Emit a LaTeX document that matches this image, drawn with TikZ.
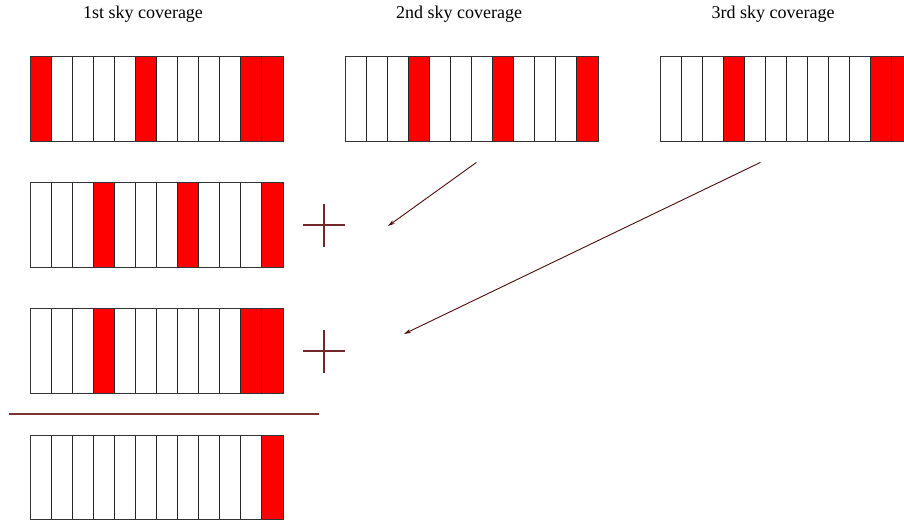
\documentclass[tikz,border=0pt]{standalone}
\usepackage{fontspec}
\setmainfont{Liberation Serif}
\usetikzlibrary{arrows.meta}
\definecolor{plusbrown}{RGB}{112,40,40}
\definecolor{rulebrown}{RGB}{122,50,50}
\definecolor{arrowbrown}{RGB}{80,12,12}

% one sky coverage: name, left x, top y, list of red cells
\newcommand{\skystrip}[4]{%
  \foreach \k in {#4}
    \fill[red] ({#2+(\k-1)*21.083},#3) rectangle ++(21.083,84.5);
  \foreach \k in {1,...,11}
    \draw[cellline] ({#2+\k*21.083},#3) -- ++(0,84.5);
  \node[strip, anchor=north west] (#1) at (#2,#3) {};
}

\begin{document}
\begin{tikzpicture}[x=1pt, y=-1pt, line cap=butt, line join=miter, >=stealth]
	\tikzset{strip/.style={draw=black!80, line width=0.9pt, minimum width=253pt, minimum height=84.5pt, inner sep=0pt},
		cellline/.style={draw=black!85, line width=0.9pt},
		title/.style={font=\fontsize{18}{20}\selectfont},
		pluspen/.style={draw=plusbrown, line width=1.4pt},
		feed/.style={draw=arrowbrown, line width=0.9pt, -{Stealth[length=7pt, width=4pt, fill=black!70]}}}
	\clip (0,0) rectangle (904,519);
	\fill[white] (0,0) rectangle (904,519);
	% the three sky coverages
	\node[title] (t1) at (143,14) {1st sky coverage};
	\node[title] (t2) at (459,14) {2nd sky coverage};
	\node[title] (t3) at (773,14) {3rd sky coverage};
	\skystrip{cov1}{30}{56}{1,6,11,12}
	\skystrip{cov2}{345}{56}{4,8,12}
	\skystrip{cov3}{660}{56}{4,11,12}
	% shifted copies and sum
	\skystrip{sum2}{30}{182.3}{4,8,12}
	\skystrip{sum3}{30}{308.3}{4,11,12}
	\skystrip{total}{30}{434.5}{12}
	\node (plusA) at (324,225) {};
	\node (plusB) at (324,351) {};
	\draw[pluspen] (plusA.center) ++(-21,0) -- ++(42,0);
	\draw[pluspen] (plusA.center) ++(0,-21.5) -- ++(0,43);
	\draw[pluspen] (plusB.center) ++(-21,0) -- ++(42,0);
	\draw[pluspen] (plusB.center) ++(0,-21.5) -- ++(0,43);
	\draw[draw=rulebrown, line width=2pt] (9,414) -- (319,414);
	% moves
	\coordinate (from2) at ([xshift=4.5pt, yshift=-21pt]cov2.south);
	\coordinate (from3) at ([xshift=-26.5pt, yshift=-21pt]cov3.south);
	\coordinate (to2) at ([xshift=64pt, yshift=-1pt]plusA.center);
	\coordinate (to3) at ([xshift=80pt, yshift=17pt]plusB.center);
	\draw[feed] (from2) -- (to2);
	\draw[feed] (from3) -- (to3);
\end{tikzpicture}
\end{document}
